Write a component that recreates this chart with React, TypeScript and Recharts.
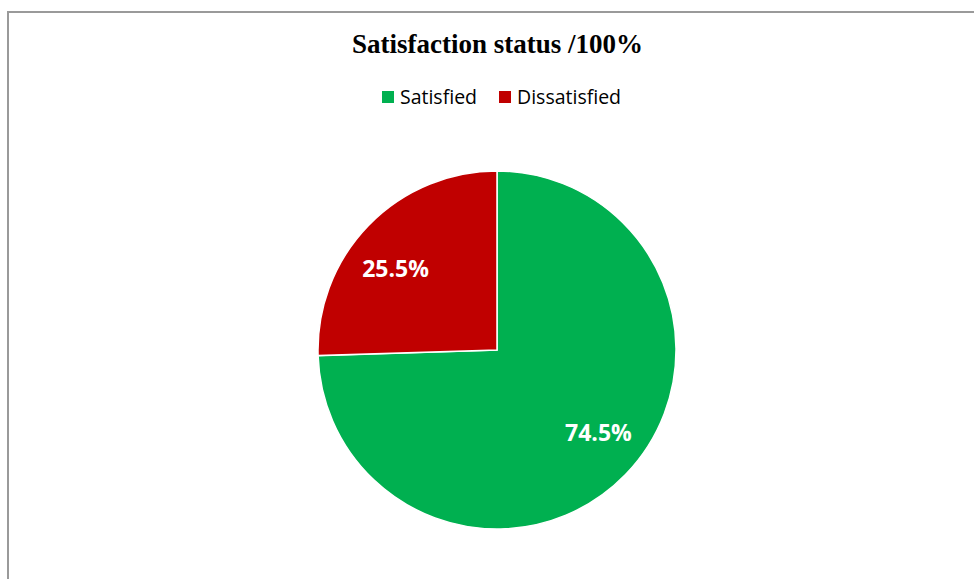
import React from "react";
import { PieChart, Pie, Cell } from "recharts";

const categories = ["Satisfied", "Dissatisfied"];
const values = [74.5, 25.5];
const colors = ["#00B050", "#C00000"];
const titleText = "Satisfaction status /100%";

const data = categories.map((name, i) => ({ name, value: values[i] }));

const RAD = Math.PI / 180;

const renderLabel = (props: any) => {
  const { cx, cy, midAngle, outerRadius, value } = props;
  const r = outerRadius * 0.73;
  const a = midAngle + 5;
  const x = cx + r * Math.cos(-a * RAD);
  const y = cy + r * Math.sin(-a * RAD);
  return (
    <text
      x={x}
      y={y}
      fill="#FFFFFF"
      textAnchor="middle"
      dominantBaseline="central"
      style={{ fontFamily: "'Open Sans', sans-serif", fontWeight: 700, fontSize: 23 }}
    >
      {`${value.toFixed(1)}%`}
    </text>
  );
};

export default function App() {
  return (
    <div style={{ position: "fixed", left: 0, top: 0, width: 974, height: 579, background: "#fff" }}>
      <div
        style={{
          position: "absolute",
          left: 7,
          top: 11,
          width: 1000,
          height: 1000,
          borderTop: "2px solid #9a9a9a",
          borderLeft: "2px solid #9a9a9a",
          boxSizing: "border-box",
        }}
      />
      <div
        style={{
          position: "absolute",
          left: 0,
          width: 995,
          top: 29,
          textAlign: "center",
          fontFamily: "'Liberation Serif', 'Times New Roman', serif",
          fontWeight: 700,
          fontSize: 27,
          lineHeight: "30px",
          color: "#000",
        }}
      >
        {titleText}
      </div>
      <div
        style={{
          position: "absolute",
          left: 0,
          width: 1003,
          top: 84,
          display: "flex",
          justifyContent: "center",
          alignItems: "center",
          fontFamily: "'Open Sans', sans-serif",
          fontSize: 19.5,
          lineHeight: "26px",
          color: "#000",
        }}
      >
        {categories.map((c, i) => (
          <div key={c} style={{ display: "flex", alignItems: "center", marginLeft: i ? 22 : 0 }}>
            <span style={{ display: "inline-block", width: 12, height: 12, background: colors[i], marginRight: 6 }} />
            <span>{c}</span>
          </div>
        ))}
      </div>
      <div style={{ position: "absolute", left: 0, top: 0 }}>
        <PieChart width={974} height={579} margin={{ top: 0, right: 0, bottom: 0, left: 0 }}>
          <Pie
            data={data}
            dataKey="value"
            nameKey="name"
            cx={497}
            cy={350}
            outerRadius={179}
            startAngle={90}
            endAngle={-270}
            stroke="#FFFFFF"
            strokeWidth={1.5}
            label={renderLabel}
            labelLine={false}
            isAnimationActive={false}
          >
            {data.map((d, i) => (
              <Cell key={d.name} fill={colors[i]} />
            ))}
          </Pie>
        </PieChart>
      </div>
    </div>
  );
}
